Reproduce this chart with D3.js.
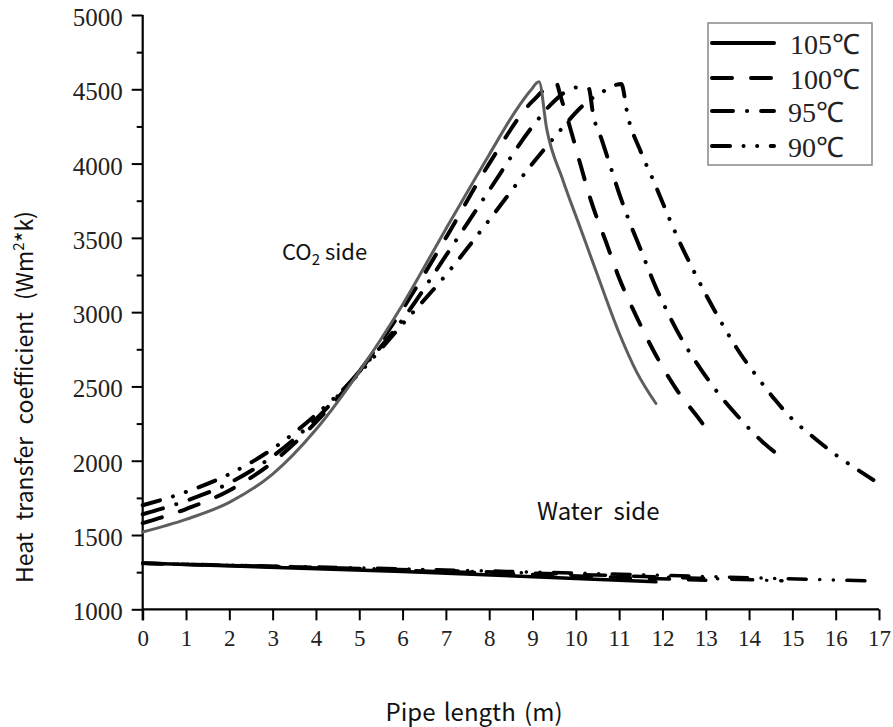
<!DOCTYPE html>
<html>
<head>
<meta charset="utf-8">
<script src="https://cdn.jsdelivr.net/npm/d3@7"></script>
<style>
  html, body { margin: 0; padding: 0; background: #fff; }
  svg { display: block; }
</style>
</head>
<body>
<svg id="chart" width="893" height="727"></svg>
<script>
// ---------------- DATA ----------------
const seriesNames = ["105℃", "100℃", "95℃", "90℃"];
const xTickValues = [0,1,2,3,4,5,6,7,8,9,10,11,12,13,14,15,16,17];
const yTickValues = [1000,1500,2000,2500,3000,3500,4000,4500,5000];
const yMinorTickValues = [1250,1750,2250,2750,3250,3750,4250,4750];

// CO2 side
const co2_105_x = [0, 1, 2, 3, 4, 5, 6, 7, 8, 8.6, 8.95, 9.15, 9.33, 9.7, 10.1, 10.5, 11.0, 11.4, 11.85];
const co2_105_y = [1520, 1605, 1720, 1910, 2210, 2600, 3050, 3560, 4060, 4350, 4490, 4550, 4230, 3890, 3570, 3250, 2860, 2600, 2385];

const co2_100_x = [0, 1, 2, 3, 4, 5, 6, 7, 8, 9, 9.55, 9.65, 9.85, 10.1, 10.35, 10.7, 11.0, 11.4, 11.85, 12.3, 12.85, 13.0];
const co2_100_y = [1580, 1675, 1800, 1990, 2260, 2600, 3020, 3500, 4000, 4420, 4540, 4450, 4260, 4000, 3750, 3470, 3230, 2970, 2710, 2490, 2280, 2220];

const co2_95_x = [0, 1, 2, 3, 4, 5, 6, 7, 8, 9, 9.5, 9.9, 10.1, 10.3, 10.4, 10.6, 10.8, 11.0, 11.25, 11.5, 11.8, 12.1, 12.5, 12.9, 13.3, 13.8, 14.3, 14.76];
const co2_95_y = [1640, 1730, 1850, 2030, 2280, 2600, 2950, 3380, 3820, 4250, 4420, 4505, 4515, 4505, 4330, 4160, 3980, 3800, 3600, 3420, 3200, 3010, 2790, 2610, 2450, 2280, 2130, 2020];

const co2_90_x = [0, 1, 2, 3, 4, 5, 6, 7, 8, 9, 9.6, 10.2, 10.6, 11.05, 11.2, 11.5, 11.8, 12.1, 12.4, 12.7, 13.0, 13.4, 13.8, 14.2, 14.6, 15.0, 15.5, 16.0, 16.5, 16.87];
const co2_90_y = [1700, 1790, 1910, 2080, 2310, 2590, 2920, 3250, 3620, 4000, 4210, 4400, 4480, 4535, 4320, 4080, 3880, 3670, 3470, 3290, 3120, 2910, 2720, 2560, 2410, 2280, 2155, 2040, 1940, 1870];

// Water side
const water_105_x = [0, 6, 11.85];
const water_105_y = [1310, 1255, 1185];
const water_100_x = [0, 6, 13.0];
const water_100_y = [1310, 1262, 1195];
const water_95_x = [0, 7, 14.76];
const water_95_y = [1310, 1260, 1192];
const water_90_x = [0, 8, 16.87];
const water_90_y = [1310, 1258, 1190];

// ---------------- STYLES ----------------
const dashes = {
  "105℃": null,
  "100℃": "20,19",
  "95℃": "21,14,0.1,14",
  "90℃": "18,13.5,0.1,13.5,0.1,13.5"
};

// ---------------- SCALES ----------------
const svg = d3.select("#chart");
const x = d3.scaleLinear().domain([0, 17]).range([142.7, 879]);
const y = d3.scaleLinear().domain([1000, 5000]).range([609.3, 15]);

const zip = (xs, ys) => xs.map((v, i) => [v, ys[i]]);
const line = d3.line().x(d => x(d[0])).y(d => y(d[1])).curve(d3.curveMonotoneX);

// ---------------- AXES ----------------
const serif = "'Liberation Serif', 'Times New Roman', serif";
const sans = "'Noto Sans CJK SC', 'Noto Sans', sans-serif";

// Y axis
const yAxis = d3.axisLeft(y).tickValues(yTickValues).tickSize(11).tickPadding(9).tickSizeOuter(0).tickFormat(d3.format("d"));
const gy = svg.append("g").attr("transform", `translate(${x(0)},0)`).call(yAxis);
gy.attr("font-family", null).attr("font-size", null);
gy.select(".domain").remove();
gy.selectAll(".tick line").attr("stroke", "#000").attr("stroke-width", 2);
gy.selectAll(".tick text").style("font-family", serif).style("font-size", "25px").attr("fill", "#222").attr("dy", "0.42em");
const yMinor = d3.axisLeft(y).tickValues(yMinorTickValues).tickSize(6).tickFormat("");
const gym = svg.append("g").attr("transform", `translate(${x(0)},0)`).call(yMinor);
gym.select(".domain").remove();
gym.selectAll(".tick line").attr("stroke", "#000").attr("stroke-width", 2);
svg.append("line").attr("x1", x(0)).attr("x2", x(0)).attr("y1", y(5000)).attr("y2", y(1000) + 11)
  .attr("stroke", "#000").attr("stroke-width", 2.2);

// X axis
const xAxis = d3.axisBottom(x).tickValues(xTickValues).tickSize(11).tickPadding(9).tickSizeOuter(0).tickFormat(d3.format("d"));
const gx = svg.append("g").attr("transform", `translate(0,${y(1000)})`).call(xAxis);
gx.attr("font-family", null).attr("font-size", null);
gx.select(".domain").remove();
gx.selectAll(".tick line").attr("stroke", "#000").attr("stroke-width", 2);
gx.selectAll(".tick text").style("font-family", serif).style("font-size", "23px").attr("fill", "#222").attr("dy", "0.72em");
svg.append("line").attr("x1", x(0)).attr("x2", x(17)).attr("y1", y(1000)).attr("y2", y(1000))
  .attr("stroke", "#000").attr("stroke-width", 2.2);

// ---------------- CURVES ----------------
const co2 = [
  {name: "105℃", d: zip(co2_105_x, co2_105_y), color: "#5e5e5e", w: 3},
  {name: "100℃", d: zip(co2_100_x, co2_100_y), color: "#000", w: 4},
  {name: "95℃",  d: zip(co2_95_x, co2_95_y),  color: "#000", w: 4},
  {name: "90℃",  d: zip(co2_90_x, co2_90_y),  color: "#000", w: 4}
];
const water = [
  {name: "105℃", d: zip(water_105_x, water_105_y), color: "#000", w: 3.5},
  {name: "100℃", d: zip(water_100_x, water_100_y), color: "#000", w: 3.5},
  {name: "95℃",  d: zip(water_95_x, water_95_y),  color: "#000", w: 3.5},
  {name: "90℃",  d: zip(water_90_x, water_90_y),  color: "#000", w: 3.5}
];
const drawSeries = (arr, cls) => {
  svg.append("g").attr("class", cls).selectAll("path").data(arr.slice().reverse()).join("path")
    .attr("d", s => line(s.d))
    .attr("fill", "none")
    .attr("stroke", s => s.color)
    .attr("stroke-width", s => s.w)
    .attr("stroke-linecap", "round")
    .attr("stroke-linejoin", "round")
    .attr("stroke-dasharray", s => dashes[s.name]);
};
drawSeries(water, "water");
drawSeries(co2, "co2");

// ---------------- ANNOTATIONS ----------------
const co2Label = svg.append("text").attr("x", 282).attr("y", 260)
  .style("font-family", sans).style("font-size", "22px").attr("fill", "#111");
co2Label.append("tspan").text("CO");
co2Label.append("tspan").style("font-size", "15px").attr("dy", 5).text("2");
co2Label.append("tspan").attr("dy", -5).text(" side");

svg.append("text").attr("x", 537).attr("y", 520)
  .style("font-family", sans).style("font-size", "24px").attr("fill", "#111")
  .attr("word-spacing", 6).text("Water side");

// Axis titles
svg.append("text").attr("x", 474).attr("y", 721).attr("text-anchor", "middle")
  .style("font-family", sans).style("font-size", "24px").attr("fill", "#111")
  .attr("word-spacing", 3).text("Pipe length (m)");

const yTitle = svg.append("text").attr("transform", "translate(33,397) rotate(-90)")
  .attr("text-anchor", "middle").style("font-family", sans).style("font-size", "23px").attr("fill", "#111")
  .attr("word-spacing", 7);
yTitle.append("tspan").text("Heat transfer coefficient (Wm");
yTitle.append("tspan").style("font-size", "15px").attr("dy", -9).text("2");
yTitle.append("tspan").attr("dy", 9).text("*k)");

// ---------------- LEGEND ----------------
const legend = svg.append("g");
legend.append("rect").attr("x", 708).attr("y", 23).attr("width", 164).attr("height", 142)
  .attr("fill", "#fff").attr("stroke", "#888").attr("stroke-width", 1.5);
const rowY = [43, 78, 111, 146];
seriesNames.forEach((n, i) => {
  legend.append("line").attr("x1", 712).attr("x2", 774).attr("y1", rowY[i]).attr("y2", rowY[i])
    .attr("stroke", "#000").attr("stroke-width", 4).attr("stroke-linecap", "round")
    .attr("stroke-dasharray", dashes[n]);
  legend.append("text").attr("x", i < 2 ? 790 : 788).attr("y", rowY[i] + 11)
    .style("font-family", serif).style("font-size", "28px").attr("fill", "#222").text(n);
});
</script>
</body>
</html>
